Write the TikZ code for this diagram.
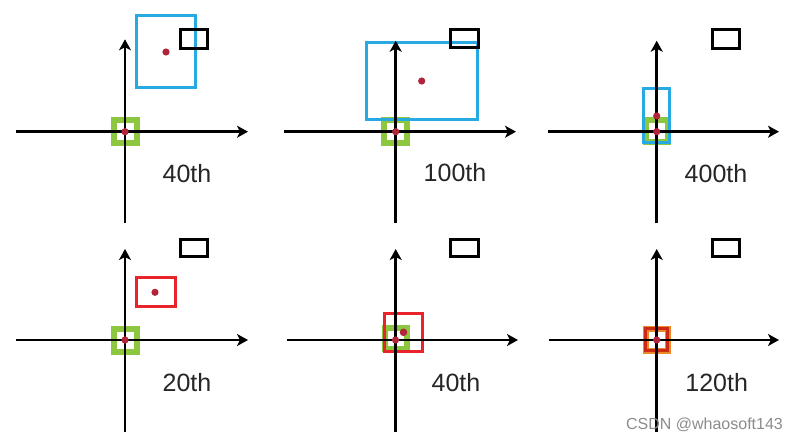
\documentclass[tikz,border=0pt]{standalone}
\usepackage{fontspec}
\setmainfont{Liberation Sans}
\usetikzlibrary{arrows.meta}
\definecolor{gboxc}{HTML}{8DC63F}
\definecolor{bboxc}{HTML}{27AAE1}
\definecolor{rboxc}{HTML}{E8232A}
\definecolor{dotc}{HTML}{B0253A}
\definecolor{oboxc}{HTML}{E88A2A}
\definecolor{tboxc}{HTML}{CC2A14}
\definecolor{txtc}{HTML}{262626}
\definecolor{wmc}{HTML}{8C8C8C}
\begin{document}
\begin{tikzpicture}[x=1pt,y=-1pt,
  axisline/.style={line width=2.8pt,-{Stealth[length=11pt,width=12pt,inset=3pt]}},
  greenbox/.style={draw=gboxc,line width=6pt},
  bluebox/.style={draw=bboxc,line width=3pt},
  redbox/.style={draw=rboxc,line width=3pt},
  blackbox/.style={draw=black,line width=3.5pt},
  dotmark/.style={fill=dotc},
  steplabel/.style={text=txtc,font=\fontsize{25}{30}\selectfont,inner sep=0pt},
  wmlabel/.style={text=wmc,font=\fontsize{16}{19}\selectfont,inner sep=0pt}]
\useasboundingbox (0,0) rectangle (799,442);
\fill[white] (0,0) rectangle (799,442);

% axis end points
\coordinate (h1a) at (16,131.7);   \coordinate (h1b) at (248,131.7);
\coordinate (v1a) at (125,222.7);  \coordinate (v1b) at (125,39.3);
\coordinate (h2a) at (284,131.7);  \coordinate (h2b) at (516,131.7);
\coordinate (v2a) at (395.7,223);  \coordinate (v2b) at (395.7,40.7);
\coordinate (h3a) at (548,131.7);  \coordinate (h3b) at (779,131.7);
\coordinate (v3a) at (656.7,223);  \coordinate (v3b) at (656.7,40.7);
\coordinate (h4a) at (16,340);     \coordinate (h4b) at (248,340);
\coordinate (v4a) at (125,431.7);  \coordinate (v4b) at (125,249);
\coordinate (h5a) at (286.7,340);  \coordinate (h5b) at (518,340);
\coordinate (v5a) at (395.7,431.7);\coordinate (v5b) at (395.7,249);
\coordinate (h6a) at (549,340);    \coordinate (h6b) at (779,340);
\coordinate (v6a) at (656.7,431.7);\coordinate (v6b) at (656.7,249);

% panel 1 : 40th
\draw[greenbox] (114,119.5) rectangle (137,142.5);
\draw[bluebox] (136.5,15.5) rectangle (195.5,87.5);
\draw[axisline] (h1a) -- (h1b);
\draw[axisline] (v1a) -- (v1b);
\fill[dotmark] (125,131.7) circle (3.6);
\fill[dotmark] (166,52) circle (3.6);
\draw[blackbox] (180.5,29.5) rectangle (207.5,48.5);
\node[steplabel] (t1) at (187,174) {40th};

% panel 2 : 100th
\draw[greenbox] (384.2,119.5) rectangle (407.2,142.5);
\draw[bluebox] (366.5,42.5) rectangle (477.5,119.5);
\draw[axisline] (h2a) -- (h2b);
\draw[axisline] (v2a) -- (v2b);
\fill[dotmark] (395.7,131.7) circle (3.6);
\fill[dotmark] (421.7,81) circle (3.6);
\draw[blackbox] (450.5,29.5) rectangle (478.5,47.5);
\node[steplabel] (t2) at (455,173) {100th};

% panel 3 : 400th
\draw[greenbox] (646,119.5) rectangle (668,141.5);
\draw[bluebox] (643.5,88.5) rectangle (669.5,142.5);
\draw[axisline] (h3a) -- (h3b);
\draw[axisline] (v3a) -- (v3b);
\fill[dotmark] (656.7,116) circle (3.6);
\fill[dotmark] (656.7,131.7) circle (3.6);
\draw[blackbox] (712.5,29.5) rectangle (739.5,48.5);
\node[steplabel] (t3) at (716,174) {400th};

% panel 4 : 20th
\draw[greenbox] (114,328.5) rectangle (137,351.5);
\draw[redbox] (136.5,277.5) rectangle (175.5,306.5);
\draw[axisline] (h4a) -- (h4b);
\draw[axisline] (v4a) -- (v4b);
\fill[dotmark] (125,340) circle (3.6);
\fill[dotmark] (155,292.3) circle (3.6);
\draw[blackbox] (180.5,239.5) rectangle (207.5,256.5);
\node[steplabel] (t4) at (187,383) {20th};

% panel 5 : 40th
\draw[greenbox] (385,328) rectangle (407,349);
\draw[redbox] (384.5,313.5) rectangle (422.5,351.5);
\draw[axisline] (h5a) -- (h5b);
\draw[axisline] (v5a) -- (v5b);
\fill[dotmark] (395.5,340) circle (3.6);
\fill[dotmark] (403.5,332.3) circle (3.8);
\draw[blackbox] (450.5,239.5) rectangle (478.5,256.5);
\node[steplabel] (t5) at (456,383) {40th};

% panel 6 : 120th
\draw[draw=oboxc,line width=6pt] (645.7,328.5) rectangle (667.7,350.5);
\draw[draw=tboxc,line width=3.5pt] (645.7,328.5) rectangle (667.7,350.5);
\draw[axisline] (h6a) -- (h6b);
\draw[axisline] (v6a) -- (v6b);
\fill[dotmark] (656.7,340) circle (3.6);
\draw[blackbox] (712.5,239.5) rectangle (739.5,256.5);
\node[steplabel] (t6) at (716.7,383) {120th};

% watermark
\node[wmlabel] (wm) at (704.5,425) {CSDN @whaosoft143};
\end{tikzpicture}
\end{document}
